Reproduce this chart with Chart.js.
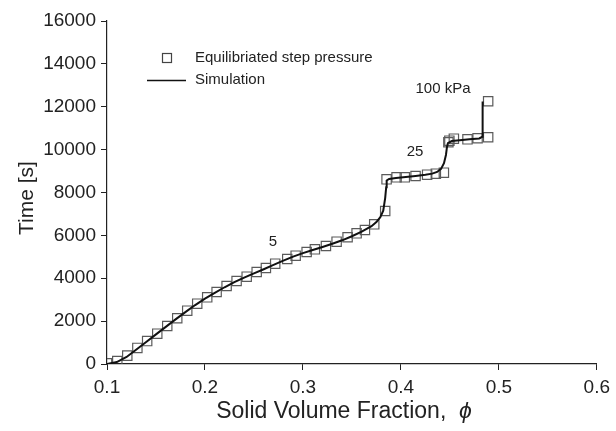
<!DOCTYPE html>
<html>
<head>
<meta charset="utf-8">
<script src="https://cdn.jsdelivr.net/npm/chart.js@4.4.1/dist/chart.umd.min.js"></script>
<style>
html,body{margin:0;padding:0;background:#fff;}
#wrap{width:616px;height:431px;}
</style>
</head>
<body>
<div id="wrap"><canvas id="c" width="616" height="431"></canvas></div>
<script>
// Experimental points: equilibrated step pressure
const expPhi = [0.100, 0.1105, 0.1207, 0.131, 0.141, 0.1513, 0.1615, 0.1717, 0.1819, 0.1921, 0.2023, 0.2119, 0.2221, 0.2323, 0.2426, 0.2528, 0.2622, 0.2717, 0.284, 0.2926, 0.3038, 0.3122, 0.3235, 0.3344, 0.3456, 0.3548, 0.3633, 0.3728, 0.384, 0.3854, 0.3956, 0.404, 0.415, 0.4268, 0.4357, 0.4439, 0.4485, 0.4495, 0.4541, 0.468, 0.4783, 0.4891, 0.4891];
const expTime = [30, 140, 390, 750, 1070, 1415, 1773, 2132, 2488, 2815, 3110, 3359, 3639, 3872, 4074, 4292, 4478, 4681, 4898, 5054, 5225, 5350, 5505, 5707, 5910, 6096, 6251, 6516, 7137, 8615, 8708, 8708, 8770, 8831, 8878, 8925, 10342, 10417, 10510, 10480, 10529, 10575, 12255];

// Simulation curve
const simPhi = [0.100, 0.110, 0.120, 0.130, 0.140, 0.150, 0.160, 0.170, 0.180, 0.190, 0.200, 0.210, 0.220, 0.230, 0.240, 0.250, 0.260, 0.270, 0.280, 0.290, 0.300, 0.310, 0.320, 0.330, 0.340, 0.350, 0.360, 0.370, 0.375, 0.379, 0.382, 0.384, 0.385, 0.3855, 0.388, 0.395, 0.405, 0.415, 0.425, 0.432, 0.437, 0.441, 0.444, 0.446, 0.447, 0.448, 0.452, 0.460, 0.470, 0.480, 0.483, 0.4833, 0.4836];
const simTime = [0, 90, 330, 680, 1030, 1380, 1730, 2080, 2420, 2750, 3050, 3320, 3580, 3820, 4030, 4230, 4420, 4620, 4820, 5010, 5170, 5320, 5460, 5610, 5770, 5960, 6170, 6430, 6620, 6850, 7150, 7750, 8250, 8560, 8630, 8680, 8720, 8770, 8830, 8880, 8960, 9100, 9370, 9750, 10100, 10300, 10400, 10440, 10480, 10520, 10600, 11500, 12250];

// Axis ticks and labels
const xTicks = [0.1, 0.2, 0.3, 0.4, 0.5, 0.6];
const yTicks = [0, 2000, 4000, 6000, 8000, 10000, 12000, 14000, 16000];
const pressureLabels = [
  {text: '5', phi: 0.2695, t: 5710},
  {text: '25', phi: 0.4145, t: 9900},
  {text: '100 kPa', phi: 0.443, t: 12840}
];
const legendLabels = ['Equilibriated step pressure', 'Simulation'];

const FONT = '"Liberation Sans", Arial, Helvetica, sans-serif';

const expData = expPhi.map((x, i) => ({x: x, y: expTime[i]}));
const simData = simPhi.map((x, i) => ({x: x, y: simTime[i]}));

const overlay = {
  id: 'overlay',
  afterDraw(chart) {
    const ctx = chart.ctx;
    const xs = chart.scales.x, ys = chart.scales.y;
    ctx.save();
    // pressure labels
    ctx.fillStyle = '#222';
    ctx.font = '15px ' + FONT;
    ctx.textAlign = 'center';
    ctx.textBaseline = 'middle';
    pressureLabels.forEach(l => {
      ctx.fillText(l.text, xs.getPixelForValue(l.phi), ys.getPixelForValue(l.t));
    });
    // legend
    ctx.textAlign = 'left';
    ctx.strokeStyle = '#444';
    ctx.lineWidth = 1.2;
    ctx.strokeRect(162.5, 53.5, 9, 9);
    ctx.fillText(legendLabels[0], 195, 58);
    ctx.strokeStyle = '#111';
    ctx.lineWidth = 1.3;
    ctx.beginPath();
    ctx.moveTo(147, 80.5);
    ctx.lineTo(186, 80.5);
    ctx.stroke();
    ctx.fillText(legendLabels[1], 195, 80);
    // y axis title
    ctx.font = '21px ' + FONT;
    ctx.save();
    ctx.translate(27, 198);
    ctx.rotate(-Math.PI / 2);
    ctx.textAlign = 'center';
    ctx.fillText('Time [s]', 0, 0);
    ctx.restore();
    // x axis title with italic phi
    const t1 = 'Solid Volume Fraction,  ';
    const t2 = '\u03D5';
    ctx.font = '23px ' + FONT;
    const w1 = ctx.measureText(t1).width;
    ctx.font = 'italic 23px ' + FONT;
    const w2 = ctx.measureText(t2).width;
    let x0 = 344 - (w1 + w2) / 2;
    ctx.textAlign = 'left';
    ctx.font = '23px ' + FONT;
    ctx.fillText(t1, x0, 412);
    ctx.font = 'italic 23px ' + FONT;
    ctx.fillText(t2, x0 + w1, 412);
    ctx.restore();
  }
};

new Chart(document.getElementById('c'), {
  type: 'scatter',
  data: {
    datasets: [
      {
        label: legendLabels[1],
        data: simData,
        showLine: true,
        borderColor: '#111',
        borderWidth: 2,
        pointRadius: 0,
        tension: 0,
        fill: false,
        order: 0
      },
      {
        label: legendLabels[0],
        data: expData,
        showLine: false,
        pointStyle: 'rect',
        pointRadius: 6.6,
        pointBorderWidth: 1.2,
        pointBorderColor: '#5a5a5a',
        pointBackgroundColor: 'rgba(0,0,0,0)',
        order: 1
      }
    ]
  },
  plugins: [overlay],
  options: {
    responsive: false,
    animation: false,
    devicePixelRatio: 1,
    layout: {padding: {left: 0, right: 19, top: 21, bottom: 0}},
    plugins: {legend: {display: false}, tooltip: {enabled: false}},
    scales: {
      x: {
        type: 'linear',
        min: 0.1, max: 0.6,
        afterBuildTicks(scale) { scale.ticks = xTicks.map(v => ({value: v})); },
        afterFit(scale) { scale.height = 67; },
        grid: {drawOnChartArea: false, drawTicks: true, tickLength: 6, color: '#222', tickColor: '#222'},
        border: {display: true, color: '#222', width: 1.2},
        ticks: {
          color: '#222',
          font: {family: FONT, size: 19},
          padding: 6,
          maxRotation: 0,
          callback: v => v.toFixed(1)
        }
      },
      y: {
        type: 'linear',
        min: 0, max: 16000,
        afterBuildTicks(scale) { scale.ticks = yTicks.map(v => ({value: v})); },
        afterFit(scale) { scale.width = 107; },
        grid: {drawOnChartArea: false, drawTicks: true, tickLength: 6, color: '#222', tickColor: '#222'},
        border: {display: true, color: '#222', width: 1.2},
        ticks: {
          color: '#222',
          font: {family: FONT, size: 19},
          padding: 5,
          callback: v => String(v)
        }
      }
    }
  }
});
</script>
</body>
</html>
